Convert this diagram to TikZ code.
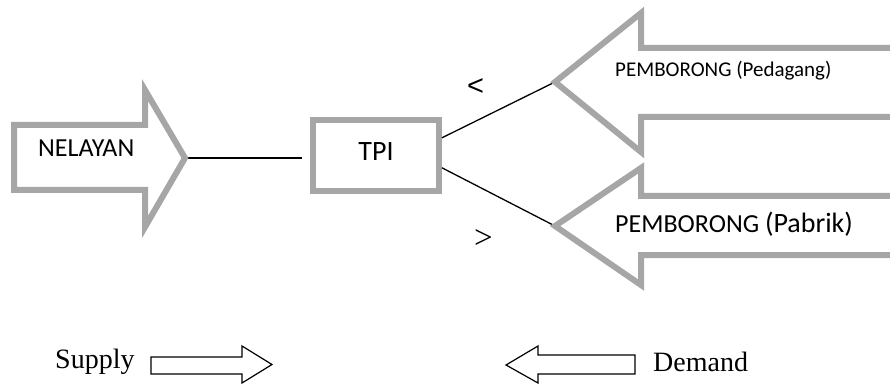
\documentclass[tikz,border=0pt]{standalone}
\usepackage{fontspec}
\setmainfont{Carlito}
\newfontfamily\timesf{Liberation Serif}
\newfontfamily\arialf{Liberation Sans}
\usetikzlibrary{calc}
\definecolor{arrgray}{HTML}{A6A6A6}
\begin{document}
\begin{tikzpicture}[x=1pt,y=-1pt,
  grayarrow/.style={draw=arrgray,line width=6pt,line join=miter,fill=white},
  conn/.style={draw=black,line width=1.3pt},
  thinarrow/.style={draw=black,line width=1.2pt,line join=miter},
  txt/.style={inner sep=0pt,anchor=base west}]
\useasboundingbox (0,0) rectangle (890,387);
\clip (0,0) rectangle (890,387);
% named tips
\coordinate (nelTip) at (185,158);
\coordinate (pedTip) at (555,82);
\coordinate (pabTip) at (555,226);
% TPI box
\node[draw=arrgray,line width=6pt,minimum width=126pt,minimum height=71pt,inner sep=0pt,
      text height=18pt,text depth=7pt,font=\fontsize{28}{30}\selectfont] (tpi) at (376,155.5) {TPI};
% connectors (drawn under the gray arrows)
\draw[conn,shorten >=8pt] (nelTip) -- (nelTip -| tpi.west);
\draw[conn] ($(tpi.north east)!0.27!(tpi.south east)$) -- (pedTip);
\draw[conn] ($(tpi.north east)!0.66!(tpi.south east)$) -- (pabTip);
% gray block arrows
\draw[grayarrow] (14,125) -- (145,125) -- (145,90) -- (nelTip) -- (145,227) -- (145,190) -- (14,190) -- cycle;
\draw[grayarrow] (910,48) -- (641,48) -- (641,13) -- (pedTip) -- (641,152) -- (641,117) -- (910,117) -- cycle;
\draw[grayarrow] (910,196) -- (641,196) -- (641,168) -- (pabTip) -- (641,285) -- (641,255) -- (910,255) -- cycle;
% labels
\node[txt,font=\fontsize{26}{30}\selectfont] (nelayan) at (38,157) {NELAYAN};
\node[txt,font=\fontsize{21}{25}\selectfont] (pedagang) at (615,77) {PEMBORONG (Pedagang)};
\node[txt,font=\fontsize{26}{30}\selectfont] (pabrik) at (615,232) {PEMBORONG {\fontsize{28}{30}\selectfont(Pabrik)}};
\node[inner sep=0pt,font=\arialf\fontsize{29}{32}\selectfont] (lt) at (475.5,87) {<};
\node[inner sep=0pt,font=\timesf\fontsize{33}{36}\selectfont] (gt) at (483.5,239) {>};
% legend
\draw[thinarrow] (151,357) -- (242,357) -- (242,346) -- (272,364.5) -- (242,383) -- (242,374) -- (151,374) -- cycle;
\draw[thinarrow] (635,355) -- (538,355) -- (538,346) -- (506,365) -- (538,383) -- (538,374) -- (635,374) -- cycle;
\node[txt,font=\timesf\fontsize{28}{30}\selectfont] (supply) at (55,368) {Supply};
\node[txt,font=\timesf\fontsize{28}{30}\selectfont] (demand) at (653,371) {Demand};
\end{tikzpicture}
\end{document}
